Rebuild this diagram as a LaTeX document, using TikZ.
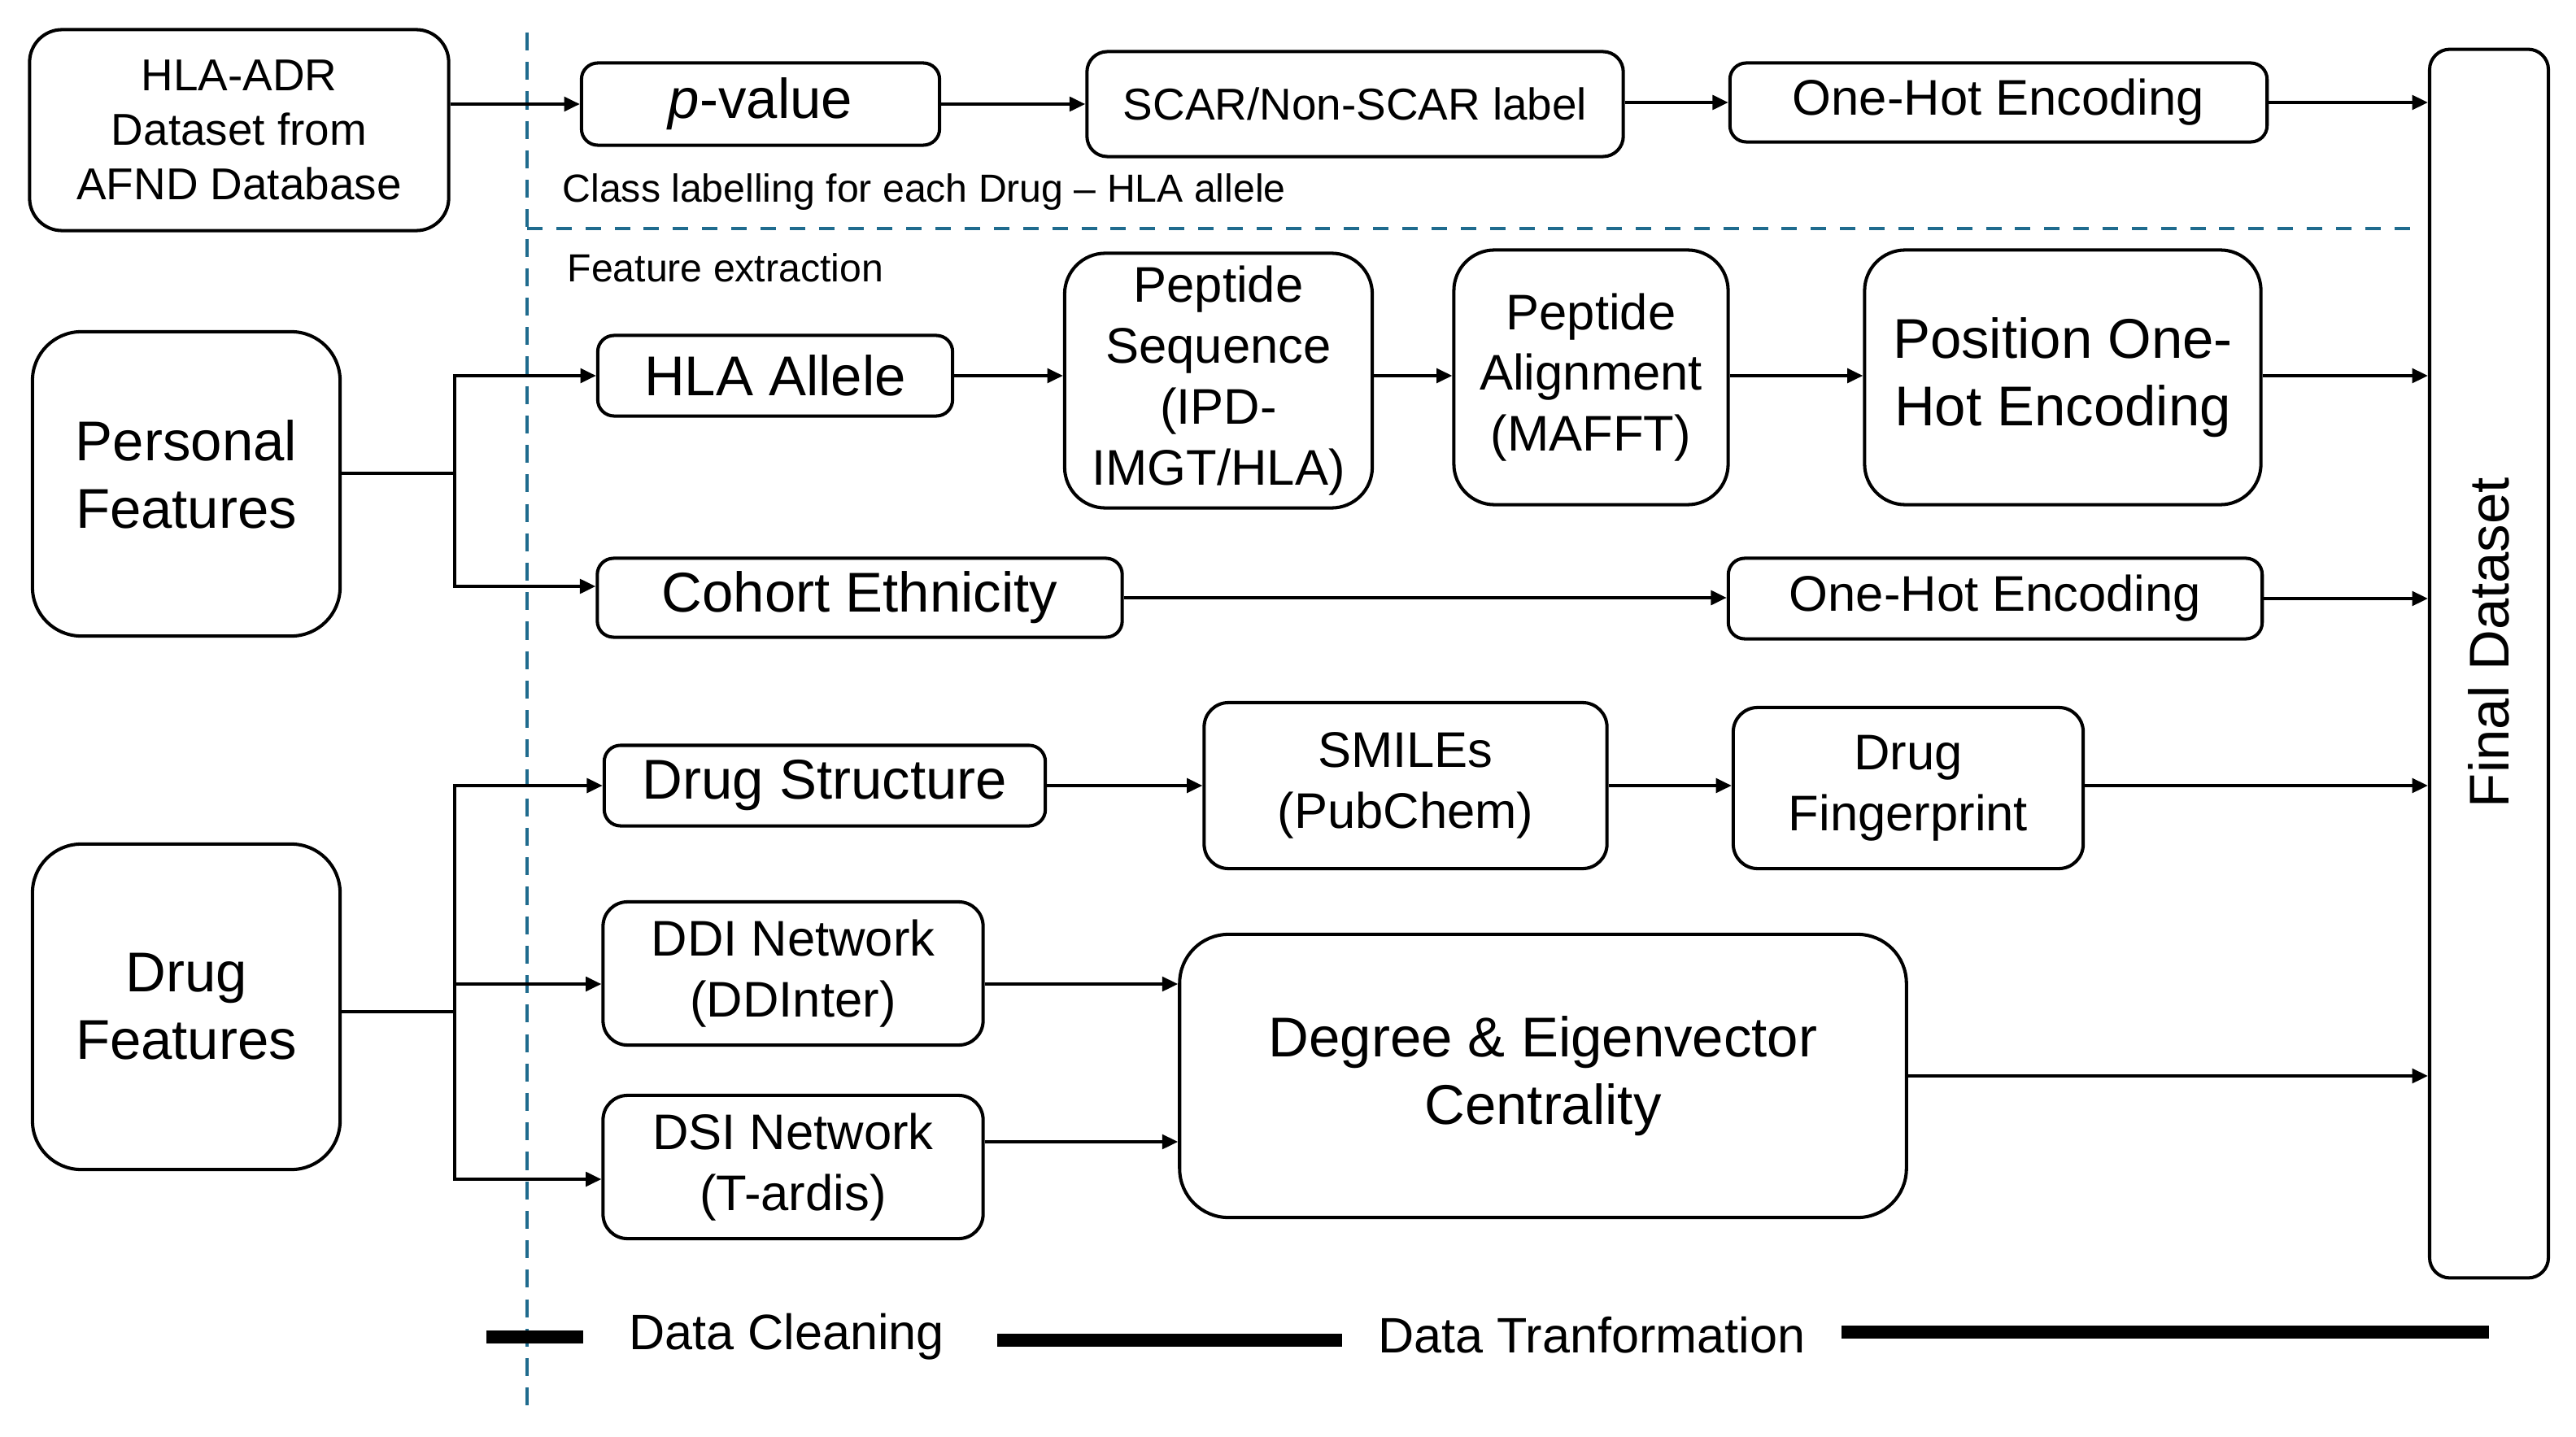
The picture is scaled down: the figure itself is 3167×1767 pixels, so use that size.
\documentclass[tikz,border=0pt]{standalone}
\usepackage{fontspec}
\setmainfont{Liberation Sans}
\usetikzlibrary{arrows.meta,calc}
\definecolor{dashblue}{HTML}{1F6B8E}
\tikzset{
  box/.style={draw, line width=1.15pt, align=center, inner sep=0pt},
  arr/.style={-{Triangle[length=5.5pt,width=5pt]}, line width=1.1pt},
  ln/.style={line width=1.1pt},
  big/.style={font=\fontsize{19.6}{23.6}\selectfont},
  med/.style={font=\fontsize{17.5}{21.3}\selectfont},
  adr/.style={font=\fontsize{15.6}{19}\selectfont},
  small/.style={font=\fontsize{13.7}{16}\selectfont},
  phase/.style={font=\fontsize{17.4}{20}\selectfont},
  thickbar/.style={line width=4.3pt},
}
\begin{document}
\begin{tikzpicture}[x=0.01cm,y=-0.01cm]
\useasboundingbox[fill=white] (0,0) rectangle (3167,1767);

% dashed separators
\draw[dashblue, line width=0.9pt, dash pattern=on 6.3pt off 4pt] (648,40) -- (648,1733);
\draw[dashblue, line width=1.4pt, dash pattern=on 5.4pt off 4.8pt] (648,281) -- (2966,281);

% top row
\node[box, adr, rounded corners=0.4cm, minimum width=5.15cm, minimum height=2.47cm] (hla) at (294,160) {HLA-ADR\\Dataset from\\AFND Database};
\node[box, big, rounded corners=0.2cm, minimum width=4.4cm, minimum height=1.01cm] (pval) at (935,128) {\textit{p}-value};
\node[box, adr, rounded corners=0.25cm, minimum width=6.59cm, minimum height=1.29cm] (scar) at (1666,128) {SCAR/Non-SCAR label};
\node[box, med, rounded corners=0.2cm, minimum width=6.6cm, minimum height=0.97cm] (ohea) at (2457,126) {One-Hot Encoding};
\node[box, rounded corners=0.25cm, minimum width=1.46cm, minimum height=15.1cm] (final) at (3060,816) {};
\node[big, rotate=90] (finaltxt) at ($(final.center)+(0,-26)$) {Final Dataset};

\node[small, anchor=west, inner sep=0pt] (classlab) at (691,236) {Class labelling for each Drug -- HLA allele};
\node[small, anchor=west, inner sep=0pt] (featex) at (697,329) {Feature extraction};

\draw[arr] (pval.west -| hla.east) -- (pval.west);
\draw[arr] (pval.east) -- (pval.east -| scar.west);
\draw[arr] (scar.east |- ohea.west) -- (ohea.west);
\draw[arr] (ohea.east) -- (ohea.east -| final.west);

% personal features
\node[box, rounded corners=0.6cm, minimum width=3.78cm, minimum height=3.74cm] (pf) at (229,595) {};
\node[big, align=center] (pftxt) at ($(pf.center)+(0,-12)$) {Personal\\Features};
\node[box, big, rounded corners=0.2cm, minimum width=4.36cm, minimum height=0.99cm] (hlaal) at (953,462) {HLA Allele};
\node[box, med, rounded corners=0.5cm, minimum width=3.78cm, minimum height=3.13cm] (pepseq) at (1498,468) {Peptide\\Sequence\\(IPD-\\IMGT/HLA)};
\node[box, med, rounded corners=0.5cm, minimum width=3.37cm, minimum height=3.13cm] (pepal) at (1956,464) {Peptide\\Alignment\\(MAFFT)};
\node[box, big, rounded corners=0.5cm, minimum width=4.87cm, minimum height=3.13cm] (pohe) at (2536,464) {Position One-\\Hot Encoding};
\node[box, big, rounded corners=0.2cm, minimum width=6.45cm, minimum height=0.97cm] (cohort) at (1057,735) {Cohort Ethnicity};
\node[box, med, rounded corners=0.2cm, minimum width=6.56cm, minimum height=0.99cm] (oheb) at (2453,736) {One-Hot Encoding};

\coordinate (pj) at (559,582);
\draw[ln] (pj -| pf.east) -- (pj);
\draw[arr] (pj) |- (hlaal.west);
\draw[arr] (pj) |- ($(cohort.west)+(0,-14)$);
\draw[arr] (hlaal.east) -- (hlaal.east -| pepseq.west);
\draw[arr] (hlaal.east -| pepseq.east) -- (hlaal.east -| pepal.west);
\draw[arr] (hlaal.east -| pepal.east) -- (hlaal.east -| pohe.west);
\draw[arr] (hlaal.east -| pohe.east) -- (hlaal.east -| final.west);
\draw[arr] (cohort.east) -- (cohort.east -| oheb.west);
\draw[arr] (oheb.east) -- (oheb.east -| final.west);

% drug features
\node[box, big, rounded corners=0.6cm, minimum width=3.78cm, minimum height=4.0cm] (df) at (229,1238) {Drug\\Features};
\node[box, big, rounded corners=0.2cm, minimum width=5.42cm, minimum height=0.99cm] (dstruct) at (1014,966) {Drug Structure};
\node[box, med, rounded corners=0.3cm, minimum width=4.95cm, minimum height=2.04cm] (smiles) at (1728,966) {SMILEs\\(PubChem)};
\node[box, med, rounded corners=0.3cm, minimum width=4.3cm, minimum height=1.98cm] (dfp) at (2346,969) {Drug\\Fingerprint};
\node[box, med, rounded corners=0.3cm, minimum width=4.67cm, minimum height=1.76cm] (ddi) at (975,1197) {DDI Network\\(DDInter)};
\node[box, med, rounded corners=0.3cm, minimum width=4.67cm, minimum height=1.76cm] (dsi) at (975,1435) {DSI Network\\(T-ardis)};
\node[box, big, rounded corners=0.6cm, minimum width=8.93cm, minimum height=3.48cm] (deg) at (1897,1323) {Degree \& Eigenvector\\Centrality};

\coordinate (dj) at (559,1244);
\coordinate (ddiin) at ($(ddi.west)+(0,13)$);
\coordinate (dsiin) at ($(dsi.west)+(0,15)$);
\coordinate (ddiout) at ($(ddi.east)+(0,13)$);
\coordinate (dsiout) at ($(dsi.east)+(0,-31)$);
\draw[ln] (dj -| df.east) -- (dj);
\draw[arr] (dj) |- (dstruct.west);
\draw[arr] (dj) |- (ddiin);
\draw[arr] (dj) |- (dsiin);
\draw[arr] (dstruct.east) -- (dstruct.east -| smiles.west);
\draw[arr] (dstruct.east -| smiles.east) -- (dstruct.east -| dfp.west);
\draw[arr] (dstruct.east -| dfp.east) -- (dstruct.east -| final.west);
\draw[arr] (ddiout) -- (ddiout -| deg.west);
\draw[arr] (dsiout) -- (dsiout -| deg.west);
\draw[arr] (deg.east) -- (deg.east -| final.west);

% bottom phase bar
\node[phase] (clean) at (967,1644) {Data Cleaning};
\node[phase] (transf) at (1957,1642) {Data Tranformation};
\draw[thickbar] (598,1644) -- (717,1644);
\draw[thickbar] (1226,1648) -- (1650,1648);
\draw[thickbar] (2264,1638) -- (3060,1638);
\end{tikzpicture}
\end{document}
